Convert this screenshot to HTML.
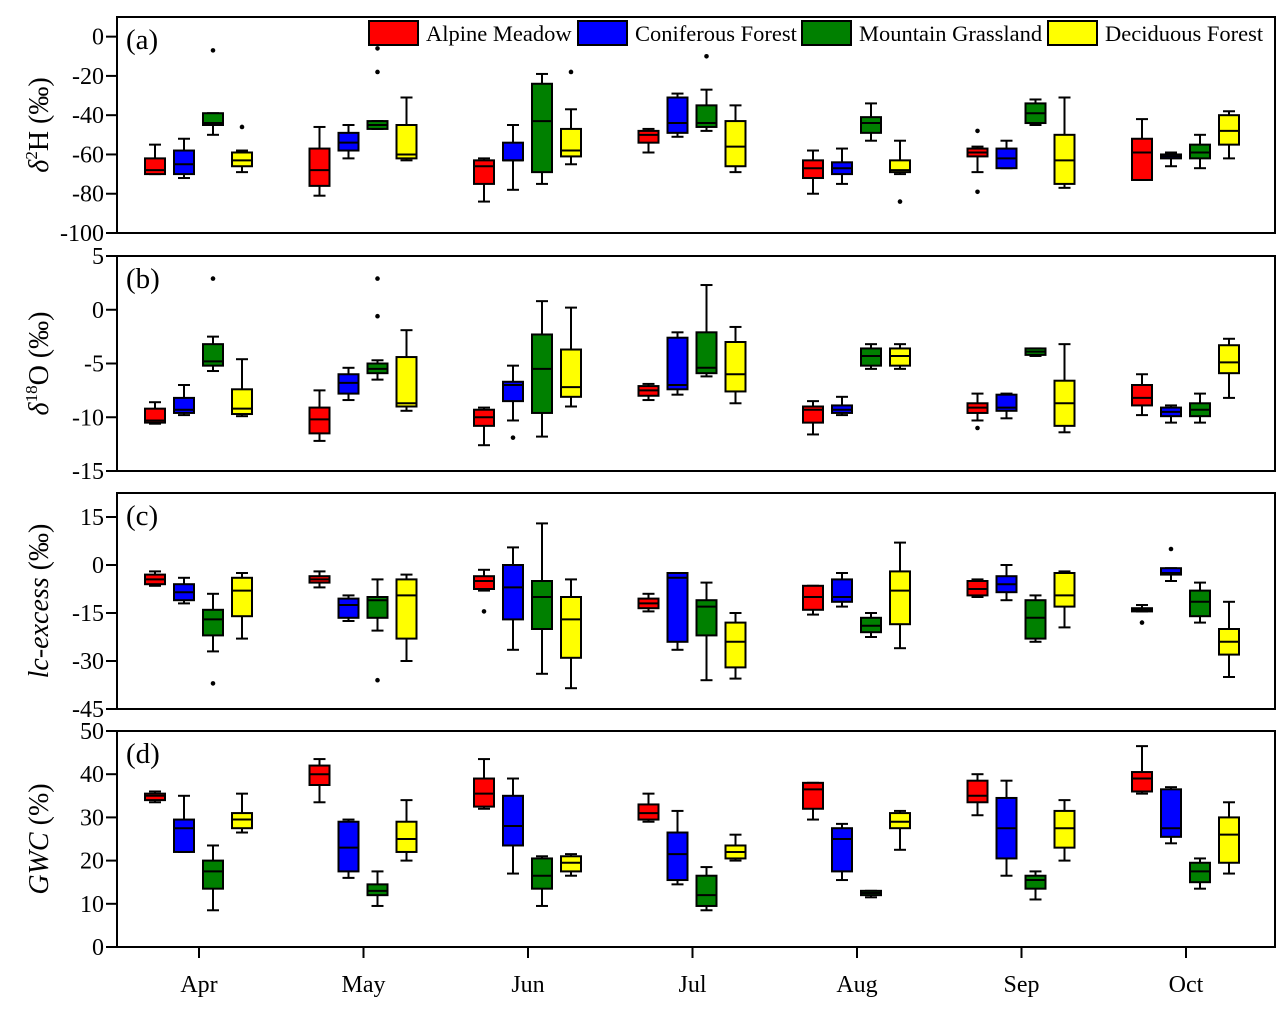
<!DOCTYPE html>
<html><head><meta charset="utf-8"><style>
body{margin:0;background:#fff;}
svg{display:block;font-family:"Liberation Serif",serif;}
</style></head><body>
<svg id="chart" width="1285" height="1010" viewBox="0 0 1285 1010"></svg>
<script>
const months=["Apr","May","Jun","Jul","Aug","Sep","Oct"];
const groups=["Alpine Meadow","Coniferous Forest","Mountain Grassland","Deciduous Forest"];
const colors=["#ff0000","#0000ff","#008000","#ffff00"];
// each stat: [low whisker, q1, median, q3, high whisker]
const d2H=[
[[-70,-70,-68,-62,-55],[-72,-70,-65,-58,-52],[-50,-45,-44,-39,-39],[-69,-66,-63,-59,-58]],
[[-81,-76,-68,-57,-46],[-62,-58,-54,-49,-45],[-47,-47,-45,-43,-43],[-63,-62,-60,-45,-31]],
[[-84,-75,-66,-63,-62],[-78,-63,-63,-54,-45],[-75,-69,-43,-24,-19],[-65,-61,-58,-47,-37]],
[[-59,-54,-50,-48,-47],[-51,-49,-44,-31,-29],[-48,-46,-44,-35,-27],[-69,-66,-56,-43,-35]],
[[-80,-72,-67,-63,-58],[-75,-70,-67,-64,-57],[-53,-49,-44,-41,-34],[-70,-69,-68,-63,-53]],
[[-69,-61,-59,-57,-56],[-67,-67,-62,-57,-53],[-45,-44,-39,-34,-32],[-77,-75,-63,-50,-31]],
[[-73,-73,-59,-52,-42],[-66,-62,-61,-60,-59],[-67,-62,-59,-55,-50],[-62,-55,-48,-40,-38]]];
const d2HOut=[[[],[],[-7],[-46]],[[],[],[-6,-18],[]],[[],[],[],[-18]],[[],[],[-10],[]],[[],[],[],[-84]],[[-48,-79],[],[],[]],[[],[],[],[]]];
const d18O=[
[[-10.6,-10.5,-10.3,-9.2,-8.6],[-9.8,-9.6,-9.3,-8.2,-7],[-5.7,-5.2,-4.8,-3.2,-2.5],[-9.9,-9.7,-9.2,-7.4,-4.6]],
[[-12.2,-11.5,-10.2,-9.1,-7.5],[-8.4,-7.8,-6.8,-6,-5.4],[-6.5,-5.9,-5.5,-5,-4.7],[-9.4,-9,-8.7,-4.4,-1.9]],
[[-12.6,-10.8,-10,-9.3,-9.1],[-10.3,-8.5,-7,-6.7,-5.2],[-11.8,-9.6,-5.5,-2.3,0.8],[-9,-8.1,-7.2,-3.7,0.2]],
[[-8.4,-8,-7.5,-7.1,-6.9],[-7.9,-7.4,-7,-2.6,-2.1],[-6.2,-5.9,-5.4,-2.1,2.3],[-8.7,-7.6,-6,-3,-1.6]],
[[-11.6,-10.5,-9.3,-9,-8.5],[-9.8,-9.6,-9.3,-8.9,-8.1],[-5.5,-5.2,-4.3,-3.6,-3.2],[-5.5,-5.2,-4.3,-3.6,-3.2]],
[[-10.3,-9.6,-9.1,-8.7,-7.8],[-10.1,-9.4,-9.1,-7.9,-7.8],[-4.3,-4.2,-3.9,-3.6,-3.6],[-11.4,-10.8,-8.7,-6.6,-3.2]],
[[-9.8,-8.9,-8.2,-7,-6],[-10.5,-9.9,-9.5,-9.1,-8.9],[-10.5,-9.9,-9.3,-8.7,-7.8],[-8.2,-5.9,-4.9,-3.3,-2.7]]];
const d18OOut=[[[],[],[2.9],[]],[[],[],[2.9,-0.6],[]],[[],[-11.9],[],[]],[[],[],[],[]],[[],[],[],[]],[[-11],[],[],[]],[[],[],[],[]]];
const lcx=[
[[-6.5,-6,-4.5,-3,-2],[-12,-11,-8.5,-6,-4],[-27,-22,-17,-14,-9],[-23,-16,-8,-4,-2.5]],
[[-7,-5.5,-4.5,-3.5,-2],[-17.5,-16.5,-12.5,-10.5,-9.5],[-20.5,-16.5,-11,-10,-4.5],[-30,-23,-9.5,-4.5,-3]],
[[-8,-7.5,-5,-3.5,-1.5],[-26.5,-17,-7,0,5.5],[-34,-20,-10,-5,13],[-38.5,-29,-17,-10,-4.5]],
[[-14.5,-13.5,-12,-10.5,-9],[-26.5,-24,-4,-2.5,-2.5],[-36,-22,-13,-11,-5.5],[-35.5,-32,-24,-18,-15]],
[[-15.5,-14,-10,-6.5,-6.5],[-13,-11.5,-10,-4.5,-2.5],[-22.5,-21,-19,-16.5,-15],[-26,-18.5,-8,-2,7]],
[[-10,-9.5,-7.5,-5,-4.5],[-11,-8.5,-6,-3.5,0],[-24,-23,-16.5,-11,-9.5],[-19.5,-13,-9.5,-2.5,-2]],
[[-14.5,-14.5,-14,-13.5,-12.5],[-5,-3,-2.5,-1,-1],[-18,-16,-11.5,-8,-5.5],[-35,-28,-24,-20,-11.5]]];
const lcxOut=[[[],[],[-37],[]],[[],[],[-36],[]],[[-14.5],[],[],[]],[[],[],[],[]],[[],[],[],[]],[[],[],[],[]],[[-18],[5],[],[]]];
const gwc=[
[[33.5,34,35,35.5,36],[22,22,27.5,29.5,35],[8.5,13.5,17.5,20,23.5],[26.5,27.5,29.5,31,35.5]],
[[33.5,37.5,40,42,43.5],[16,17.5,23,29,29.5],[9.5,12,13,14.5,17.5],[20,22,25,29,34]],
[[32,32.5,35.5,39,43.5],[17,23.5,28,35,39],[9.5,13.5,16.5,20.5,21],[16.5,17.5,19.5,21,21.5]],
[[29,29.5,31,33,35.5],[14.5,15.5,21.5,26.5,31.5],[8.5,9.5,12,16.5,18.5],[20,20.5,22,23.5,26]],
[[29.5,32,36.5,38,38],[15.5,17.5,25,27.5,28.5],[11.5,12,12.5,13,13],[22.5,27.5,29,31,31.5]],
[[30.5,33.5,35,38.5,40],[16.5,20.5,27.5,34.5,38.5],[11,13.5,15.5,16.5,17.5],[20,23,27.5,31.5,34]],
[[35.5,36,39,40.5,46.5],[24,25.5,27.5,36.5,37],[13.5,15,17.5,19.5,20.5],[17,19.5,26,30,33.5]]];
const gwcOut=[[[],[],[],[]],[[],[],[],[]],[[],[],[],[]],[[],[],[],[]],[[],[],[],[]],[[],[],[],[]],[[],[],[],[]]];
const ticksA=[0,-20,-40,-60,-80,-100];
const ticksB=[5,0,-5,-10,-15];
const ticksC=[15,0,-15,-30,-45];
const ticksD=[50,40,30,20,10,0];

const svg=document.getElementById('chart');
const NS='http://www.w3.org/2000/svg';
function el(tag,attrs,parent){const e=document.createElementNS(NS,tag);for(const k in attrs)e.setAttribute(k,attrs[k]);(parent||svg).appendChild(e);return e;}
const X0=117,X1=1275;
function xMonth(i){return 199+i*164.5;}
const offs=[-44,-15,14,43];

function panel(key,top,bottom,vTop,vBot,ticks,stats,outs,label,ylab){
  const g=el('g',{});
  
  
  const y=v=>top+(vTop-v)/(vTop-vBot)*(bottom-top);
  const fr=el('rect',{x:X0,y:top,width:X1-X0,height:bottom-top,fill:'none',stroke:'#000','stroke-width':2},g);
  
  
  ticks.forEach(t=>{
    el('line',{x1:X0-11,x2:X0,y1:y(t),y2:y(t),stroke:'#000','stroke-width':2},g);
    const tx=el('text',{x:X0-13,y:y(t)+8,'text-anchor':'end','font-size':24},g);
    tx.textContent=t;
    
    
  });
  const pl=el('text',{x:126,y:top+32,'font-size':29},g);
  pl.textContent=label;
  
  
  const yl=el('g',{transform:`translate(48,${(top+bottom)/2}) rotate(-90)`},g);
  yl.innerHTML=ylab;
  
  
  stats.forEach((m,mi)=>{
    m.forEach((s,gi)=>{
      const cx=xMonth(mi)+offs[gi];
      const bg=el('g',{},g);
      
      
      const st={stroke:'#000','stroke-width':2};
      el('line',Object.assign({x1:cx,x2:cx,y1:y(s[4]),y2:y(s[3])},st),bg);
      el('line',Object.assign({x1:cx,x2:cx,y1:y(s[1]),y2:y(s[0])},st),bg);
      el('line',Object.assign({x1:cx-6,x2:cx+6,y1:y(s[4]),y2:y(s[4])},st),bg);
      el('line',Object.assign({x1:cx-6,x2:cx+6,y1:y(s[0]),y2:y(s[0])},st),bg);
      el('rect',Object.assign({x:cx-10,y:y(s[3]),width:20,height:Math.max(1,y(s[1])-y(s[3])),fill:colors[gi]},st),bg);
      el('line',Object.assign({x1:cx-10,x2:cx+10,y1:y(s[2]),y2:y(s[2])},st),bg);
      outs[mi][gi].forEach(o=>{
        const c=el('circle',{cx:cx,cy:y(o),r:2.3,fill:'#000'},bg);
        
        
      });
    });
  });
}
panel('a',17,233,10,-100,ticksA,d2H,d2HOut,'(a)','<text text-anchor="middle" font-size="28"><tspan font-style="italic">δ</tspan><tspan font-size="17" dy="-11">2</tspan><tspan dy="11">H (‰)</tspan></text>');
panel('b',256,471,5,-15,ticksB,d18O,d18OOut,'(b)','<text text-anchor="middle" font-size="28"><tspan font-style="italic">δ</tspan><tspan font-size="17" dy="-11">18</tspan><tspan dy="11">O (‰)</tspan></text>');
panel('c',493,709,22.5,-45,ticksC,lcx,lcxOut,'(c)','<text text-anchor="middle" font-size="28"><tspan font-style="italic">lc-excess</tspan> (‰)</text>');
panel('d',731,947,50,0,ticksD,gwc,gwcOut,'(d)','<text text-anchor="middle" font-size="28"><tspan font-style="italic">GWC</tspan> (%)</text>');
months.forEach((m,i)=>{
  el('line',{x1:xMonth(i),x2:xMonth(i),y1:947,y2:958,stroke:'#000','stroke-width':2});
  const t=el('text',{x:xMonth(i),y:992,'text-anchor':'middle','font-size':24});
  t.textContent=m;
  
  
});
const legX=[369,578,802,1048];
groups.forEach((gname,i)=>{
  const lg=el('g',{});
  
  
  el('rect',{x:legX[i],y:21,width:49,height:24,fill:colors[i],stroke:'#000','stroke-width':2},lg);
  const t=el('text',{x:legX[i]+57,y:41,'font-size':22.5},lg);
  t.textContent=gname;
});
</script>
</body></html>
